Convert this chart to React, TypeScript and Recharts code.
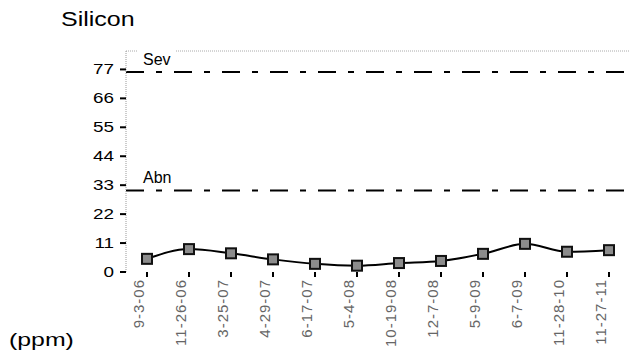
import { LineChart, Line, XAxis, YAxis, ReferenceLine } from 'recharts';

const sampleDates = [
  '9-3-06', '11-26-06', '3-25-07', '4-29-07', '6-17-07', '5-4-08',
  '10-19-08', '12-7-08', '5-9-09', '6-7-09', '11-28-10', '11-27-11',
];
const siliconPpm = [5, 8.7, 7.1, 4.8, 3.1, 2.4, 3.4, 4.2, 6.9, 10.7, 7.7, 8.3];
const yTicks = [0, 11, 22, 33, 44, 55, 66, 77];
const yMax = 84;
const severeLimit = 76;
const abnormalLimit = 31;

const data = sampleDates.map((date, i) => ({ date, silicon: siliconPpm[i] }));

const FONT = '"Liberation Sans", Arial, sans-serif';

function DateTick({ x, y, payload }: any) {
  return (
    <g transform={`translate(${x},${y})`}>
      <text
        transform="rotate(-90)"
        x={0}
        y={0}
        dy={-3}
        textAnchor="end"
        fontSize={15}
        letterSpacing={1}
        fontFamily={FONT}
        fill="#666"
      >
        {payload.value}
      </text>
    </g>
  );
}

function ValueTick({ x, y, payload }: any) {
  return (
    <g transform={`translate(${x},${y}) scale(1.35,1)`}>
      <text x={0} y={0} dy="0.36em" textAnchor="end" fontSize={14} fontFamily={FONT} fill="#000">
        {payload.value}
      </text>
    </g>
  );
}

function SquareDot({ cx, cy }: any) {
  if (cx == null || cy == null) return null;
  return <rect x={cx - 5} y={cy - 5} width={10} height={10} fill="#8c8c8c" stroke="#111" strokeWidth={2} />;
}

function limitLabel(text: string) {
  return (props: any) => {
    const vb = props.viewBox || {};
    const lx = vb.x ?? 0;
    const ly = vb.y ?? 0;
    return (
      <g>
        <rect x={lx + 11} y={ly - 24} width={39} height={15} fill="#fff" />
        <text x={lx + 17} y={ly - 7} fontSize={16} fontFamily={FONT} fill="#000">
          {text}
        </text>
      </g>
    );
  };
}

export default function App() {
  return (
    <div style={{ position: 'absolute', left: 0, top: 0, width: 631, height: 358, background: '#fff' }}>
      <div
        style={{
          position: 'absolute', left: 61, top: 9, fontFamily: FONT, fontSize: 20, lineHeight: '20px',
          transform: 'scaleX(1.25)', transformOrigin: 'left', whiteSpace: 'nowrap',
        }}
      >
        Silicon
      </div>
      <div
        style={{
          position: 'absolute', left: 9, top: 331, fontFamily: FONT, fontSize: 18, lineHeight: '18px',
          transform: 'scaleX(1.38)', transformOrigin: 'left', whiteSpace: 'nowrap',
        }}
      >
        (ppm)
      </div>
      <LineChart
        width={631}
        height={358}
        data={data}
        margin={{ top: 51, right: 1, bottom: 6, left: 86 }}
      >
        <XAxis
          dataKey="date"
          interval={0}
          height={80}
          padding={{ left: 21, right: 21 }}
          axisLine={false}
          tickSize={5}
          tickLine={{ stroke: '#000', strokeWidth: 2 }}
          tick={<DateTick />}
        />
        <YAxis
          domain={[0, yMax]}
          ticks={yTicks}
          interval={0}
          width={40}
          tickSize={6}
          tickMargin={6}
          axisLine={{ stroke: '#999', strokeDasharray: '1 1' }}
          tickLine={{ stroke: '#000', strokeWidth: 2 }}
          tick={<ValueTick />}
        />
        <ReferenceLine y={yMax} stroke="#aaa" strokeDasharray="1 1" />
        <ReferenceLine
          y={severeLimit}
          stroke="#000"
          strokeWidth={2}
          strokeDasharray="18 12 6 12"
          label={limitLabel('Sev')}
        />
        <ReferenceLine
          y={abnormalLimit}
          stroke="#000"
          strokeWidth={2}
          strokeDasharray="18 12 6 12"
          label={limitLabel('Abn')}
        />
        <Line
          type="monotone"
          dataKey="silicon"
          stroke="#000"
          strokeWidth={2}
          dot={<SquareDot />}
          activeDot={false}
          isAnimationActive={false}
        />
      </LineChart>
    </div>
  );
}
